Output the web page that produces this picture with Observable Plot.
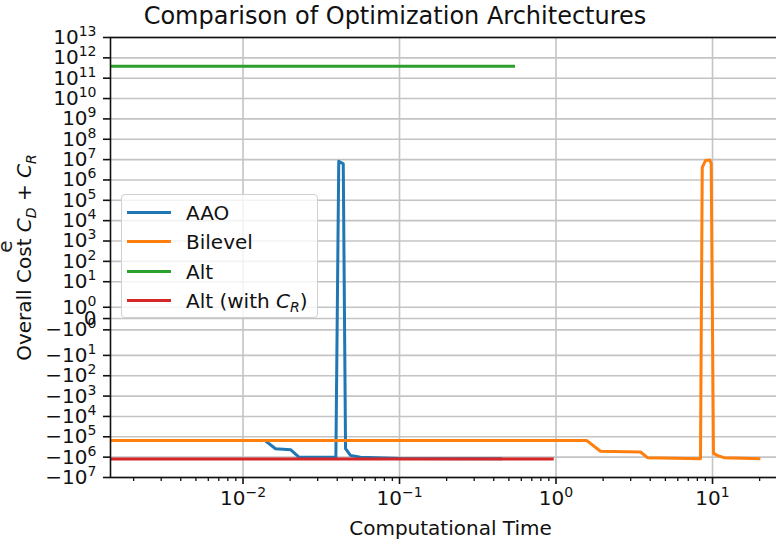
<!DOCTYPE html>
<html>
<head>
<meta charset="utf-8">
<script src="https://cdn.jsdelivr.net/npm/d3@7"></script>
<script src="https://cdn.jsdelivr.net/npm/@observablehq/plot@0.6"></script>
<style>
  html, body { margin: 0; padding: 0; overflow: hidden; background: #fff; }
  #wrap { position: relative; width: 790px; height: 542px; font-family: "DejaVu Sans", sans-serif; color: #111; }
  #title { position: absolute; left: 0; top: 1px; width: 790px; text-align: center; font-size: 24px; line-height: 30px; }
  #chart { position: absolute; left: 0; top: 30px; }
  #legend { position: absolute; left: 121px; top: 194px; width: 195px; height: 122px;
            background: rgba(255,255,255,0.8); border: 1px solid #d0d0d0; border-radius: 4px; }
  .row { position: absolute; left: 0; height: 30px; width: 195px; }
  .sw { position: absolute; left: 5px; top: 13px; width: 44px; height: 3px; }
  .lab { position: absolute; left: 64px; top: 0; font-size: 20px; line-height: 30px; white-space: nowrap; }
  .lab sub { font-size: 14px; vertical-align: -4px; line-height: 0; }
</style>
</head>
<body>
<div id="wrap">
  <div id="title">Comparison of Optimization Architectures</div>
  <div id="chart"></div>
  <div id="legend"></div>
</div>
<script>
// ---- data ----
const seriesNames = ["AAO", "Bilevel", "Alt", "Alt (with C_R)"];
const seriesColors = ["#1f77b4", "#ff7f0e", "#2ca02c", "#d62728"];

const aaoTime = [0.001423, 0.01378, 0.01613, 0.02013, 0.02275, 0.0386, 0.0392, 0.0409, 0.0437, 0.0452, 0.0486, 0.0563, 0.1014, 0.442];
const aaoCost = [-1.5e5, -1.5e5, -3.85e5, -4.3e5, -1.0e6, -1.0e6, -1.0e6, 8.3e6, 6.2e6, -3.85e5, -8.2e5, -1.0e6, -1.15e6, -1.2e6];

const bilevelTime = [0.001423, 1.567, 1.923, 3.47, 3.84, 8.38, 8.60, 9.02, 9.61, 9.81, 10.14, 10.72, 11.81, 19.77];
const bilevelCost = [-1.5e5, -1.5e5, -5.1e5, -5.6e5, -1.06e6, -1.2e6, 4.2e6, 9.0e6, 9.5e6, 6.2e6, -6.5e5, -8.2e5, -1.06e6, -1.2e6];

const altTime = [0.001423, 0.535];
const altCost = [3.86e11, 3.86e11];

const altCrTime = [0.001423, 0.946];
const altCrCost = [-1.25e6, -1.25e6];

const xTicks = [0.01, 0.1, 1, 10];
const xTickLabels = ["10⁻²", "10⁻¹", "10⁰", "10¹"];

const yTicks = [1e13, 1e12, 1e11, 1e10, 1e9, 1e8, 1e7, 1e6, 1e5, 1e4, 1e3, 1e2, 1e1, 1e0, 0,
                -1e0, -1e1, -1e2, -1e3, -1e4, -1e5, -1e6, -1e7];
const yTickLabels = ["10¹³", "10¹²", "10¹¹", "10¹⁰", "10⁹", "10⁸", "10⁷", "10⁶", "10⁵", "10⁴", "10³", "10²", "10¹", "10⁰", "0",
                     "−10⁰", "−10¹", "−10²", "−10³", "−10⁴", "−10⁵", "−10⁶", "−10⁷"];

const xLabel = "Computational Time";
const yLabel = "Overall Cost C_D + C_R";
const strayText = "e";   // clipped glyph at the far left edge of the reference

// ---- symmetric log transform (matplotlib style, linthresh 2, linscale 1) ----
const LT = 2, LS = 1 / (1 - 1 / 10);
function T(v) {
  const a = Math.abs(v);
  if (a <= LT) return v * LS;
  return Math.sign(v) * LT * (LS + Math.log10(a / LT));
}

const times = [aaoTime, bilevelTime, altTime, altCrTime];
const costs = [aaoCost, bilevelCost, altCost, altCrCost];
const rows = seriesNames.flatMap((n, i) => times[i].map((t, j) => ({series: n, time: t, cost: costs[i][j]})));

const yPos = yTicks.map(T);
const yLabelOf = new Map(yPos.map((p, i) => [p, yTickLabels[i]]));
const xLabelOf = new Map(xTicks.map((v, i) => [v, xTickLabels[i]]));

const xMinor = [];
for (let e = -3; e <= 1; e++) for (let m = 2; m <= 9; m++) {
  const v = m * Math.pow(10, e);
  if (v > 0.001423 && v < 31.5) xMinor.push(+v.toPrecision(3));
}

const grid = "#c4c4c4";
const chart = Plot.plot({
  width: 790,
  height: 512,
  marginTop: 7,
  marginBottom: 65,
  marginLeft: 110,
  marginRight: 0,
  style: {fontFamily: "DejaVu Sans, sans-serif", fontSize: "20px", color: "#111", background: "transparent", maxWidth: "none", overflow: "visible"},
  x: {type: "log", domain: [0.001423, 31.5]},
  y: {domain: [T(-1e7), T(1e13)]},
  color: {domain: seriesNames, range: seriesColors},
  marks: [
    Plot.gridX(xTicks, {stroke: grid, strokeOpacity: 1, strokeWidth: 1.6}),
    Plot.gridY(yPos, {stroke: grid, strokeOpacity: 1, strokeWidth: 1.6}),
    Plot.line(rows, {x: "time", y: d => T(d.cost), z: "series", stroke: "series", strokeWidth: 3,
                     strokeLinejoin: "round", strokeLinecap: "square", clip: true}),
    Plot.axisX(xMinor, {tickSize: 4, tickFormat: () => "", label: null, strokeWidth: 1.3}),
    Plot.axisX(xTicks, {tickSize: 7, tickPadding: 6, tickFormat: d => xLabelOf.get(d), label: null, strokeWidth: 1.6, fontSize: 20}),
    Plot.axisY(yPos, {tickSize: 7, tickPadding: 7, tickFormat: d => yLabelOf.get(d), label: null, strokeWidth: 1.6, fontSize: 20}),
    Plot.frame({stroke: "#111", strokeWidth: 1.6}),
    Plot.text([xLabel], {frameAnchor: "bottom", textAnchor: "middle", dy: 57, fontSize: 20, fill: "#111"}),
    Plot.text([yLabel], {frameAnchor: "left", textAnchor: "middle", rotate: -90, dx: -86, fontSize: 20, fill: "#111"}),
    Plot.text([strayText], {frameAnchor: "left", textAnchor: "middle", rotate: -90, dx: -105, dy: -11, fontSize: 20, fill: "#222"})
  ]
});
document.getElementById("chart").appendChild(chart);

const NS = "http://www.w3.org/2000/svg";
function span(parent, txt, attrs) {
  const s = document.createElementNS(NS, "tspan");
  for (const k in attrs) s.setAttribute(k, attrs[k]);
  s.textContent = txt;
  parent.appendChild(s);
}

// tick labels: mathtext-like superscripts
const supMap = {"⁰":"0","¹":"1","²":"2","³":"3","⁴":"4","⁵":"5","⁶":"6","⁷":"7","⁸":"8","⁹":"9","⁻":"−"};
const tickSet = new Set([...xTickLabels, ...yTickLabels]);
chart.querySelectorAll("text").forEach(t => {
  const s = t.textContent;
  if (!tickSet.has(s)) return;
  const m = s.match(/^(−?10)(.+)$/);
  if (!m) return;
  t.textContent = "";
  span(t, m[1], {});
  span(t, [...m[2]].map(c => supMap[c] || c).join(""), {"font-size": "14", dy: "-8"});
});

// axis label: italic C with subscript letter
chart.querySelectorAll("text").forEach(t => {
  if (t.textContent !== yLabel) return;
  t.textContent = "";
  const parts = yLabel.split(/(C_[A-Z])/);
  let shifted = false;
  parts.forEach(p => {
    if (!p) return;
    const m = p.match(/^C_([A-Z])$/);
    if (m) {
      span(t, "C", shifted ? {"font-style": "italic", dy: "-5"} : {"font-style": "italic"});
      span(t, m[1], {"font-size": "14", "font-style": "italic", dy: "5"});
      shifted = true;
    } else {
      span(t, p, shifted ? {dy: "-5"} : {});
      shifted = false;
    }
  });
});

// legend (inside the axes)
const legend = document.getElementById("legend");
seriesNames.forEach((n, i) => {
  const row = document.createElement("div");
  row.className = "row";
  row.style.top = (3 + i * 29.3) + "px";
  const sw = document.createElement("div");
  sw.className = "sw";
  sw.style.background = seriesColors[i];
  const lab = document.createElement("div");
  lab.className = "lab";
  lab.innerHTML = n.replace(/C_([A-Z])/, "<i>C</i><sub><i>$1</i></sub>");
  row.appendChild(sw);
  row.appendChild(lab);
  legend.appendChild(row);
});
</script>
</body>
</html>
